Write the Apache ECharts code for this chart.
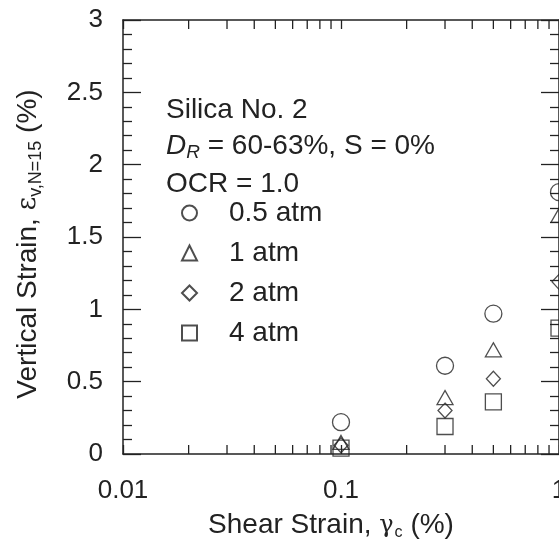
<!DOCTYPE html>
<html>
<head>
<meta charset="utf-8">
<script src="https://cdn.jsdelivr.net/npm/echarts@6/dist/echarts.min.js"></script>
<style>
  html, body { margin: 0; padding: 0; background: #fff; overflow: hidden; }
  #chart { width: 559px; height: 544px; }
</style>
</head>
<body>
<div id="chart"></div>
<script>
// Cyclic shear strain (%) at which each test was run
const shearStrain = [0.1, 0.3, 0.5, 1.0];

// Vertical strain after 15 cycles (%) for each confining pressure
const strain05atm = [0.22, 0.61, 0.97, 1.81];
const strain1atm  = [0.08, 0.39, 0.72, 1.65];
const strain2atm  = [0.06, 0.30, 0.52, 1.19];
const strain4atm  = [0.04, 0.19, 0.36, 0.87];

const seriesNames = ['0.5 atm', '1 atm', '2 atm', '4 atm'];

// Axis ranges and tick labels
const xMin = 0.01, xMax = 1;
const xTickLabels = { '0.01': '0.01', '0.1': '0.1', '1': '1' };
const yMin = 0, yMax = 3, yStep = 0.5;
const yTickLabels = ['0', '0.5', '1', '1.5', '2', '2.5', '3'];

// Minor tick positions between decades of the log axis
const xMinorTicks = [0.02, 0.03, 0.04, 0.05, 0.06, 0.07, 0.08, 0.09,
                     0.2, 0.3, 0.4, 0.5, 0.6, 0.7, 0.8, 0.9];

const FONT = 'Liberation Sans, Arial, sans-serif';
const FS_TICK = 26;
const FS = 28;
const INK = '#222';

function pairs(ys) { return shearStrain.map((x, i) => [x, ys[i]]); }

const markerStyle = { color: 'rgba(0,0,0,0)', borderColor: INK, borderWidth: 1.3 };

function scatter(name, ys, symbol, size) {
  return {
    name: name, type: 'scatter', data: pairs(ys),
    symbol: symbol, symbolSize: size,
    itemStyle: markerStyle, emphasis: { disabled: true },
    z: 5
  };
}

function yAxisCfg(pos, showLabel) {
  return {
    type: 'value', position: pos, min: yMin, max: yMax, interval: yStep,
    axisLine: { show: true, onZero: false, lineStyle: { color: INK, width: 1.5 } },
    axisTick: { show: true, inside: true, length: 18, lineStyle: { color: INK, width: 1.3 } },
    minorTick: { show: true, splitNumber: 5, length: 9, lineStyle: { color: INK, width: 1.3 } },
    splitLine: { show: false },
    axisLabel: {
      show: showLabel, margin: 20, fontFamily: FONT, fontSize: FS_TICK, color: INK,
      formatter: v => yTickLabels[Math.round((v - yMin) / yStep)]
    }
  };
}

function xAxisCfg(pos, showLabel) {
  return {
    type: 'log', logBase: 10, position: pos, min: xMin, max: xMax,
    axisLine: { show: true, onZero: false, lineStyle: { color: INK, width: 1.5 } },
    axisTick: { show: true, inside: true, length: 9, lineStyle: { color: INK, width: 1.3 } },
    splitLine: { show: false },
    axisLabel: {
      show: showLabel, margin: 24, fontFamily: FONT, fontSize: FS_TICK, color: INK,
      formatter: v => xTickLabels[String(+v.toPrecision(3))] || ''
    }
  };
}

const chart = echarts.init(document.getElementById('chart'), null, { renderer: 'canvas' });

const xBottom = xAxisCfg('bottom', true);
xBottom.name = '{t|Shear Strain, }{g|γ}{s|c}{t| (%)}';
xBottom.nameLocation = 'middle';
xBottom.nameGap = 56;
xBottom.nameTextStyle = {
  padding: [0, 20, 0, 0],
  rich: {
    t: { fontFamily: FONT, fontSize: FS, color: INK },
    g: { fontFamily: 'DejaVu Serif, serif', fontSize: 24, color: INK },
    s: { fontFamily: FONT, fontSize: 16, color: INK, padding: [15, 0, 0, 1] }
  }
};

const yLeft = yAxisCfg('left', true);
yLeft.name = '{t|Vertical Strain, }{g|ε}{s|v,N=15}{t| (%)}';
yLeft.nameLocation = 'middle';
yLeft.nameRotate = 90;
yLeft.nameGap = 78;
yLeft.nameTextStyle = {
  padding: [0, 14, 0, 0],
  rich: {
    t: { fontFamily: FONT, fontSize: FS, color: INK },
    g: { fontFamily: 'DejaVu Serif, serif', fontSize: 26, color: INK },
    s: { fontFamily: FONT, fontSize: 18, color: INK, padding: [15, 0, 0, 0] }
  }
};

chart.setOption({
  animation: false,
  backgroundColor: '#fff',
  grid: { left: 123, right: 0, top: 20, bottom: 90, outerBoundsMode: 'none', containLabel: false },
  xAxis: [xBottom, xAxisCfg('top', false)],
  yAxis: [yLeft, yAxisCfg('right', false)],
  legend: {
    data: seriesNames,
    orient: 'vertical', left: 181, top: 199, padding: 0,
    itemWidth: 15, itemHeight: 15, itemGap: 12,
    selectedMode: false,
    textStyle: { fontFamily: FONT, fontSize: FS, color: INK, padding: [0, 0, 0, 27] }
  },
  graphic: [
    { type: 'text', left: 166, top: 96,
      style: { text: 'Silica No. 2', font: FS + 'px ' + FONT, fill: INK } },
    { type: 'text', left: 166, top: 132,
      style: {
        text: '{i|D}{r|R}{t| = 60-63%, S = 0%}',
        rich: {
          i: { fontFamily: FONT, fontStyle: 'italic', fontSize: FS, fill: INK },
          r: { fontFamily: FONT, fontStyle: 'italic', fontSize: 19, fill: INK, padding: [13, 0, 0, 0] },
          t: { fontFamily: FONT, fontSize: FS, fill: INK }
        }
      } },
    { type: 'text', left: 166, top: 170,
      style: { text: 'OCR = 1.0', font: FS + 'px ' + FONT, fill: INK } }
  ],
  series: [
    scatter(seriesNames[0], strain05atm, 'circle', 17),
    scatter(seriesNames[1], strain1atm, 'triangle', [16, 14]),
    scatter(seriesNames[2], strain2atm, 'diamond', [14, 15]),
    scatter(seriesNames[3], strain4atm, 'rect', 16),
    {
      // minor ticks of the log axis, mirrored on top and bottom frame edges
      type: 'custom', name: 'minorTicks', silent: true, clip: false,
      data: xMinorTicks.map(v => [v]),
      encode: { x: 0 },
      renderItem: function (params, api) {
        const v = api.value(0);
        const b = api.coord([v, yMin]);
        const t = api.coord([v, yMax]);
        const ls = { stroke: INK, lineWidth: 1.3 };
        return {
          type: 'group',
          children: [
            { type: 'line', shape: { x1: b[0], y1: b[1], x2: b[0], y2: b[1] - 9 }, style: ls },
            { type: 'line', shape: { x1: t[0], y1: t[1], x2: t[0], y2: t[1] + 9 }, style: ls }
          ]
        };
      }
    }
  ]
});
</script>
</body>
</html>
